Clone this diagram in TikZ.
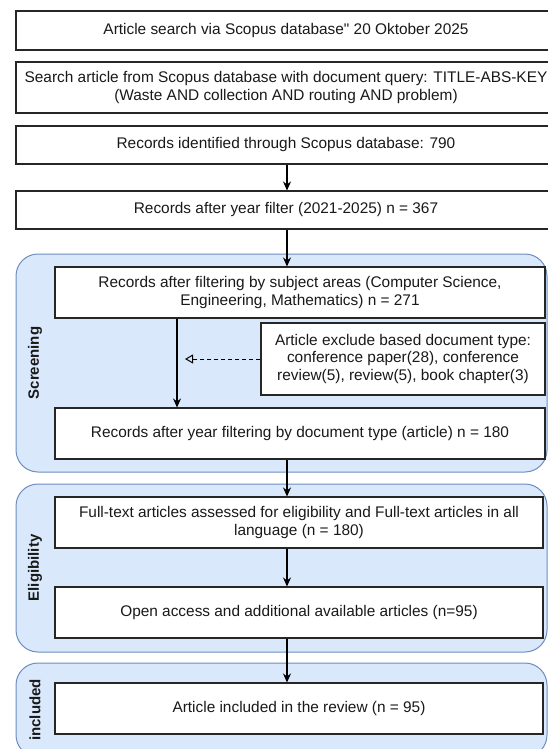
\documentclass[tikz,border=0pt]{standalone}
\usepackage{fontspec}
\setmainfont{Liberation Sans}[Ligatures=TeXOff]
\usetikzlibrary{arrows.meta}
\definecolor{grpfill}{HTML}{DAE8FC}
\definecolor{grpline}{HTML}{6C8EBF}
\tikzset{
  box/.style     = {rectangle, draw=black!85, line width=1.1pt, fill=white, align=center, inner sep=0, text=black!90, font=\fontsize{15.4}{17.5}\selectfont},
  grp/.style     = {draw=grpline, line width=1pt, fill=grpfill, rounded corners=22pt},
  glabel/.style  = {rotate=90, text=black!90, font=\bfseries\fontsize{15}{17}\selectfont},
  flow/.style    = {line width=1.1pt, -{Stealth[length=9pt,width=8pt]}},
  exarrow/.style = {line width=1pt, dash pattern=on 4pt off 3pt, -{Triangle[open,length=8pt,width=9pt]}}
}

\begin{document}
\begin{tikzpicture}[x=1pt,y=-1pt]
  \useasboundingbox (0,0) rectangle (548,749);
  \clip (0,0) rectangle (548,749);

  % groups
  \draw[grp] (16,254) rectangle (547,472);
  \draw[grp] (16,484) rectangle (547,652);
  \draw[grp] (16,663) rectangle (547,757);
  \node[glabel] (lscr) at (35,363) {Screening};
  \node[glabel] (lelg) at (35,568) {Eligibility};
  \node[glabel] (linc) at (35,710) {included};

  % identification
  \node[box, minimum width=540pt, minimum height=39pt] (top1) at (286,30.5) {Article search via Scopus database" 20 Oktober 2025};
  \node[box, minimum width=540pt, minimum height=51pt] (top2) at (286,87.5) {Search article from Scopus database with document query: TITLE-ABS-KEY\\(Waste AND collection AND routing AND problem)};
  \node[box, minimum width=540pt, minimum height=38pt] (top3) at (286,145) {Records identified through Scopus database: 790};
  \node[box, minimum width=540pt, minimum height=38pt] (top4) at (286,210) {Records after year filter (2021-2025) n = 367};

  % screening
  \node[box, minimum width=490pt, minimum height=51pt] (scr1) at (300,292.5) {Records after filtering by subject areas (Computer Science,\\Engineering, Mathematics) n = 271};
  \node[box, minimum width=284pt, minimum height=72pt] (excl) at (403,359) {Article exclude based document type:\\conference paper(28), conference\\review(5), review(5), book chapter(3)};
  \node[box, minimum width=490pt, minimum height=51pt] (scr2) at (300,433.5) {Records after year filtering by document type (article) n = 180};

  % eligibility and included
  \node[box, minimum width=488pt, minimum height=51pt] (elg1) at (299,522.5) {Full-text articles assessed for eligibility and Full-text articles in all\\language (n = 180)};
  \node[box, minimum width=488pt, minimum height=51pt] (elg2) at (299,612.5) {Open access and additional available articles (n=95)};
  \node[box, minimum width=488pt, minimum height=51pt] (inc1) at (299,708.5) {Article included in the review (n = 95)};

  % connectors
  \coordinate (mainx) at (287,0);
  \coordinate (sidex) at (177,0);
  \draw[flow] (top3.south -| mainx) -- (top4.north -| mainx);
  \draw[flow] (top4.south -| mainx) -- (scr1.north -| mainx);
  \draw[flow] (scr1.south -| sidex) -- (scr2.north -| sidex);
  \draw[exarrow, shorten >=8pt] (excl.west) -- (excl.west -| sidex);
  \draw[flow] (scr2.south -| mainx) -- (elg1.north -| mainx);
  \draw[flow] (elg1.south -| mainx) -- (elg2.north -| mainx);
  \draw[flow] (elg2.south -| mainx) -- (inc1.north -| mainx);

\end{tikzpicture}
\end{document}
